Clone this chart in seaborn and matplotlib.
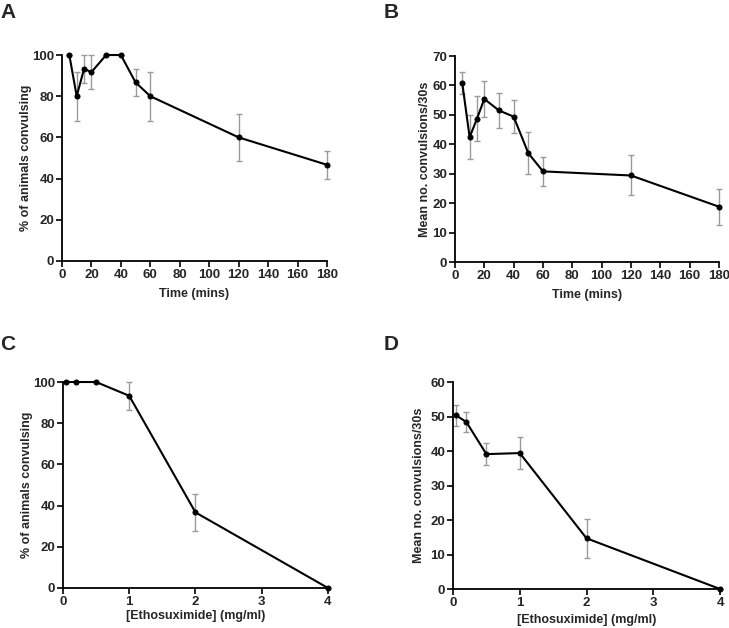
import matplotlib
matplotlib.use("Agg")
import matplotlib.pyplot as plt
import seaborn as sns
import pandas as pd

# ---- data ----
time_mins = [5, 10, 15, 20, 30, 40, 50, 60, 120, 180]
pct_time = [100, 80, 93.3, 91.7, 100, 100, 86.7, 80, 60, 46.7]
pct_time_err = [0, 11.8, 6.7, 8.3, 0, 0, 6.5, 11.8, 11.6, 6.8]
conv_time = [60.7, 42.4, 48.7, 55.4, 51.5, 49.4, 37.0, 30.8, 29.4, 18.8]
conv_time_err = [3.7, 7.5, 7.6, 6.0, 6.0, 5.6, 7.1, 5.0, 6.8, 6.1]

conc = [0.05, 0.2, 0.5, 1, 2, 4]
pct_conc = [100, 100, 100, 93.3, 36.7, 0]
pct_conc_err = [0, 0, 0, 6.7, 8.8, 0]
conv_conc = [50.3, 48.4, 39.1, 39.4, 14.7, 0]
conv_conc_err = [3.1, 2.9, 3.3, 4.6, 5.6, 0]

time_xticks = [0, 20, 40, 60, 80, 100, 120, 140, 160, 180]
conc_xticks = [0, 1, 2, 3, 4]

sns.set_style("ticks")
plt.rcParams['font.family'] = ['Liberation Sans', 'DejaVu Sans']
plt.rcParams['font.weight'] = 'bold'

fig = plt.figure(figsize=(7.29, 6.28), dpi=100)

panels = [
    ("A", [0.085, 0.5844, 0.3636, 0.328], time_mins, pct_time, pct_time_err,
     (0, 180), time_xticks, (0, 100), list(range(0, 101, 20)),
     "Time (mins)", "% of animals convulsing", (0.0005, 0.996), 5, 0),
    ("B", [0.6241, 0.5828, 0.3621, 0.328], time_mins, conv_time, conv_time_err,
     (0, 180), time_xticks, (0, 70), list(range(0, 71, 10)),
     "Time (mins)", "Mean no. convulsions/30s", (0.526, 0.996), 5, 1),
    ("C", [0.0864, 0.0637, 0.3635, 0.328], conc, pct_conc, pct_conc_err,
     (0, 4), conc_xticks, (0, 100), list(range(0, 101, 20)),
     "[Ethosuximide] (mg/ml)", "% of animals convulsing", (0.0, 0.467), 2, 0),
    ("D", [0.6214, 0.0621, 0.3663, 0.3296], conc, conv_conc, conv_conc_err,
     (0, 4), conc_xticks, (0, 60), list(range(0, 61, 10)),
     "[Ethosuximide] (mg/ml)", "Mean no. convulsions/30s", (0.526, 0.467), 4, 4),
]

for (lab, pos, xs, ys, es, xlim, xt, ylim, yt, xl, yl, lpos, xpad, ypad) in panels:
    ax = fig.add_axes(pos)
    df = pd.DataFrame({"x": xs, "y": ys})
    ax.errorbar(xs, ys, yerr=es, fmt='none', ecolor='#9a9a9a', elinewidth=1.0,
                capsize=2.5, capthick=1.0, zorder=2, clip_on=False)
    sns.lineplot(data=df, x="x", y="y", ax=ax, color='black', linewidth=1.5,
                 marker='o', markersize=3.6, markeredgecolor='black',
                 zorder=3, clip_on=False)
    ax.set_xlim(*xlim)
    ax.set_ylim(*ylim)
    ax.set_xticks(xt)
    ax.set_yticks(yt)
    ax.set_xlabel(xl, fontsize=9, fontweight='bold', labelpad=xpad)
    ax.set_ylabel(yl, fontsize=9, fontweight='bold', labelpad=ypad)
    ax.tick_params(axis='both', labelsize=9.5, width=1.2, length=4, pad=1.5,
                   color='black')
    for t in ax.get_xticklabels() + ax.get_yticklabels():
        t.set_fontweight('bold')
    sns.despine(ax=ax)
    for s in ['left', 'bottom']:
        ax.spines[s].set_linewidth(1.3)
        ax.spines[s].set_color('black')
    fig.text(lpos[0], lpos[1], lab, fontsize=15, fontweight='bold',
             ha='left', va='top')

fig.savefig("out.png", dpi=100)
